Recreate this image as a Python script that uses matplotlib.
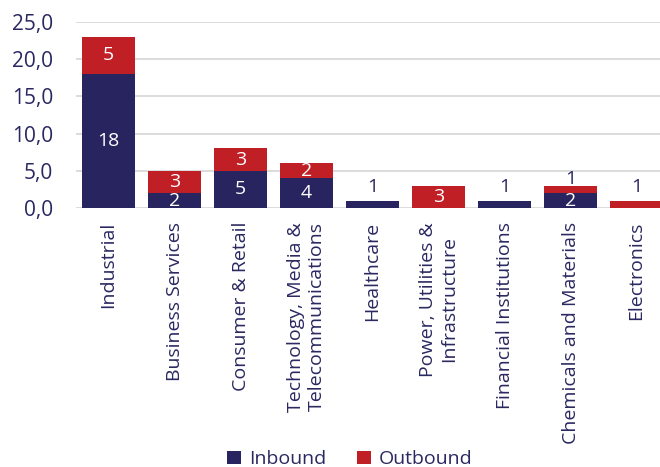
import numpy as np
import matplotlib.pyplot as plt
from matplotlib.ticker import FuncFormatter

plt.rcParams['font.family'] = ['Open Sans', 'DejaVu Sans']

categories = ["Industrial", "Business Services", "Consumer & Retail",
              "Technology, Media &\nTelecommunications", "Healthcare",
              "Power, Utilities &\nInfrastructure", "Financial Institutions",
              "Chemicals and Materials", "Electronics"]
inbound = [18, 2, 5, 4, 1, 0, 1, 2, 0]
outbound = [5, 3, 3, 2, 0, 3, 0, 1, 1]

navy = "#28245f"
red = "#c11f26"
textcol = "#2a2860"

fig = plt.figure(figsize=(6.6, 4.67), dpi=100)
ax = fig.add_axes([75.5/660, 1-208/467, 594/660, 186/467])

x = np.arange(len(categories))
inb = np.array(inbound)
outb = np.array(outbound)
ax.bar(x, inb, width=0.8, color=navy, label="Inbound")
ax.bar(x, outb, width=0.8, bottom=inb, color=red, label="Outbound")

# labels: centred in the segment, small (value 1) ones sit on top
for i in range(len(x)):
    for val, base in ((inb[i], 0), (outb[i], inb[i])):
        if val == 0:
            continue
        if val == 1:
            off = -1.5 if (inb[i] > 0 and outb[i] > 0) else 3
            ax.annotate(str(val), (x[i], base + val), xytext=(0, off),
                        textcoords="offset points", ha="center", va="bottom",
                        color=textcol, fontsize=14)
        else:
            ax.text(x[i], base + val / 2, str(val), ha="center", va="center",
                    color="white", fontsize=14)

ax.set_ylim(0, 25)
ax.set_xlim(-0.5, len(categories) - 0.5)
ax.set_yticks(np.arange(0, 26, 5))
ax.yaxis.set_major_formatter(FuncFormatter(lambda v, p: f"{v:.1f}".replace(".", ",")))
ax.grid(axis="y", color="#d9d9d9", linewidth=1.3)
ax.set_axisbelow(True)
for s in ax.spines.values():
    s.set_visible(False)
ax.tick_params(length=0, colors=textcol, labelsize=14)
ax.tick_params(axis="y", pad=16, labelsize=15)
ax.tick_params(axis="x", pad=10)
ax.set_xticks(x)
ax.set_xticklabels(categories, rotation=90, multialignment="center", fontsize=14)

leg = fig.legend(loc="lower center", bbox_to_anchor=(0.53, -0.04), ncol=2,
                 frameon=False, fontsize=14, handlelength=0.7, handleheight=0.7,
                 columnspacing=1.6, handletextpad=0.4)
for t in leg.get_texts():
    t.set_color(textcol)

fig.savefig("out.png", dpi=100)
